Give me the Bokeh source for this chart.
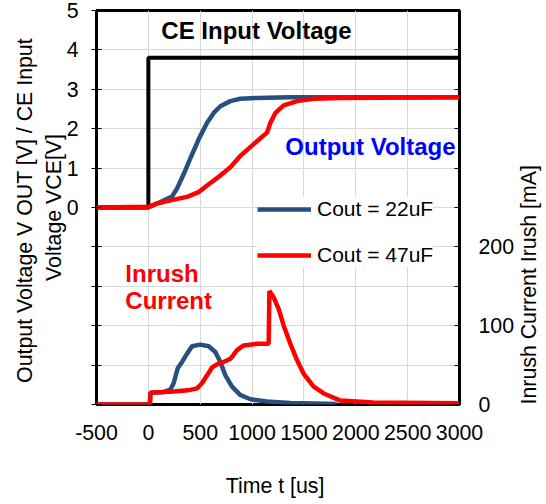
import math
from bokeh.plotting import figure
from bokeh.models import Range1d, LinearAxis, FixedTicker, Label, Legend, LegendItem
from bokeh.embed import file_html
from bokeh.resources import INLINE

# ---- data ----
time_ce = [-500, 0, 0, 3000]
vce = [0.0, 0.0, 3.8, 3.8]

time_v22 = [-500, 0, 116, 228, 276, 341, 405, 485, 566, 630, 694, 791, 887, 1048, 1369, 3000]
vout_22 = [0.0, 0.0, 0.14, 0.28, 0.48, 0.85, 1.25, 1.73, 2.15, 2.40, 2.57, 2.70, 2.76, 2.78, 2.80, 2.80]

time_v47 = [-500, 0, 84, 212, 373, 485, 566, 694, 791, 887, 1016, 1144, 1177, 1225, 1305, 1434, 1594, 1851, 3000]
vout_47 = [0.0, 0.02, 0.10, 0.18, 0.27, 0.39, 0.56, 0.81, 1.02, 1.31, 1.61, 1.90, 2.15, 2.40, 2.59, 2.70, 2.76, 2.78, 2.80]

time_i22 = [-500, 15, 20, 150, 212, 244, 283, 325, 373, 421, 501, 582, 646, 694, 743, 807, 887, 984, 1144, 1369, 1819]
irush_22 = [0, 0, 15, 16, 19, 27, 46, 54, 64.5, 74, 76, 74, 66.7, 54, 37, 22.6, 12, 6.7, 3.8, 2, 0.5]

time_i47 = [-500, 15, 20, 244, 405, 469, 517, 566, 614, 662, 726, 791, 855, 919, 1048, 1160, 1167, 1208, 1257, 1305, 1369, 1434, 1498, 1594, 1691, 1851, 2170, 3000]
irush_47 = [0, 0, 15, 16.4, 18.5, 20.5, 27, 37, 47, 51, 54, 58, 69, 75, 77, 77, 144, 136, 121, 100, 77, 56, 39, 22.6, 14, 5, 2.5, 1.5]

x_ticks = [-500, 0, 500, 1000, 1500, 2000, 2500, 3000]
x_tick_labels = ["-500", "0", "500", "1000", "1500", "2000", "2500", "3000"]
v_ticks = [-5, -4, -3, -2, -1, 0, 1, 2, 3, 4, 5]
v_tick_labels = ["", "", "", "", "", "0", "1", "2", "3", "4", "5"]
i_ticks = [0, 50, 100, 150, 200, 250, 300, 350, 400, 450, 500]
i_tick_labels = ["0", "", "100", "", "200", "", "", "", "", "", ""]

FONT = "Liberation Sans"
BLUE = "#25507F"
RED = "#FF0000"
FS = "21.33px"

p = figure(width=544, height=500,
           x_range=Range1d(-500, 3000), y_range=Range1d(-5, 5),
           output_backend="svg", toolbar_location=None,
           min_border_left=96, min_border_right=85,
           min_border_top=10, min_border_bottom=92)
p.extra_y_ranges = {"irush": Range1d(0, 500)}

p.background_fill_color = "white"
p.border_fill_color = "white"
p.outline_line_color = "black"
p.outline_line_width = 3

# x axis
xa = p.xaxis[0]
xa.ticker = FixedTicker(ticks=x_ticks)
xa.major_label_overrides = {t: s for t, s in zip(x_ticks, x_tick_labels)}
xa.axis_label = "Time t  [us]"
xa.axis_line_color = None
xa.major_tick_line_color = None
xa.minor_tick_line_color = None
xa.major_label_standoff = 14
xa.axis_label_standoff = 31

# left axis
ya = p.yaxis[0]
ya.ticker = FixedTicker(ticks=v_ticks)
ya.major_label_overrides = {t: s for t, s in zip(v_ticks, v_tick_labels)}
ya.axis_label = "Output Voltage V OUT  [V] / CE Input\nVoltage VCE[V]"
ya.axis_line_color = None
ya.major_tick_out = 5
ya.major_tick_in = 5
ya.major_tick_line_color = "black"
ya.minor_tick_line_color = None
ya.major_label_standoff = 13
ya.axis_label_standoff = -2

# right axis (title drawn as a rotated label, reading bottom to top)
ra = LinearAxis(y_range_name="irush", ticker=FixedTicker(ticks=i_ticks))
ra.major_label_overrides = {t: s for t, s in zip(i_ticks, i_tick_labels)}
ra.axis_line_color = None
ra.major_tick_out = 0
ra.major_tick_in = 5
ra.major_tick_line_color = "black"
ra.minor_tick_line_color = None
ra.major_label_standoff = 19
p.add_layout(ra, "right")

for ax in [xa, ya, ra]:
    ax.major_label_text_font = FONT
    ax.major_label_text_font_size = FS
    ax.major_label_text_color = "black"
    ax.axis_label_text_font = FONT
    ax.axis_label_text_font_size = FS
    ax.axis_label_text_font_style = "normal"
    ax.axis_label_text_color = "black"

p.xgrid.ticker = FixedTicker(ticks=x_ticks)
p.ygrid.ticker = FixedTicker(ticks=v_ticks)
for g in [p.xgrid[0], p.ygrid[0]]:
    g.grid_line_color = "#D9D9D9"
    g.grid_line_width = 1

# lines
p.line(time_ce, vce, line_color="black", line_width=4)
r_b = p.line(time_v22, vout_22, line_color=BLUE, line_width=4.5)
r_r = p.line(time_v47, vout_47, line_color=RED, line_width=4.5)
p.line(time_i22, irush_22, line_color=BLUE, line_width=4.5, y_range_name="irush")
p.line(time_i47, irush_47, line_color=RED, line_width=4.5, y_range_name="irush")

# annotations
def note(x, y, text, color):
    p.add_layout(Label(x=x, y=y, text=text, text_font=FONT,
                       text_font_size="24px", text_font_style="bold", text_color=color,
                       text_align="left", text_baseline="middle"))

note(125, 4.5, "CE Input Voltage", "black")
note(1321, 1.56, "Output Voltage", "#0000FF")
note(-222, -1.68, "Inrush", RED)
note(-222, -2.36, "Current", RED)

# right-axis title, in the right side panel, reading bottom to top
p.add_layout(Label(x=11, y=0, x_units="screen", y_units="screen",
                   text="Inrush Current Irush [mA]", angle=math.pi / 2,
                   text_font=FONT, text_font_size=FS, text_color="black",
                   text_align="left", text_baseline="middle"), "right")

legend = Legend(items=[LegendItem(label="Cout = 22uF", renderers=[r_b]),
                       LegendItem(label="Cout = 47uF", renderers=[r_r])],
                location=(161, 137), orientation="vertical",
                glyph_width=54, glyph_height=24, label_height=24,
                spacing=22, padding=14, label_standoff=6, margin=0,
                background_fill_color="white", background_fill_alpha=1.0,
                border_line_color=None,
                label_text_font=FONT, label_text_font_size="21px",
                label_text_color="black")
p.add_layout(legend, "center")

open("out.html", "w").write(file_html(p, INLINE))
